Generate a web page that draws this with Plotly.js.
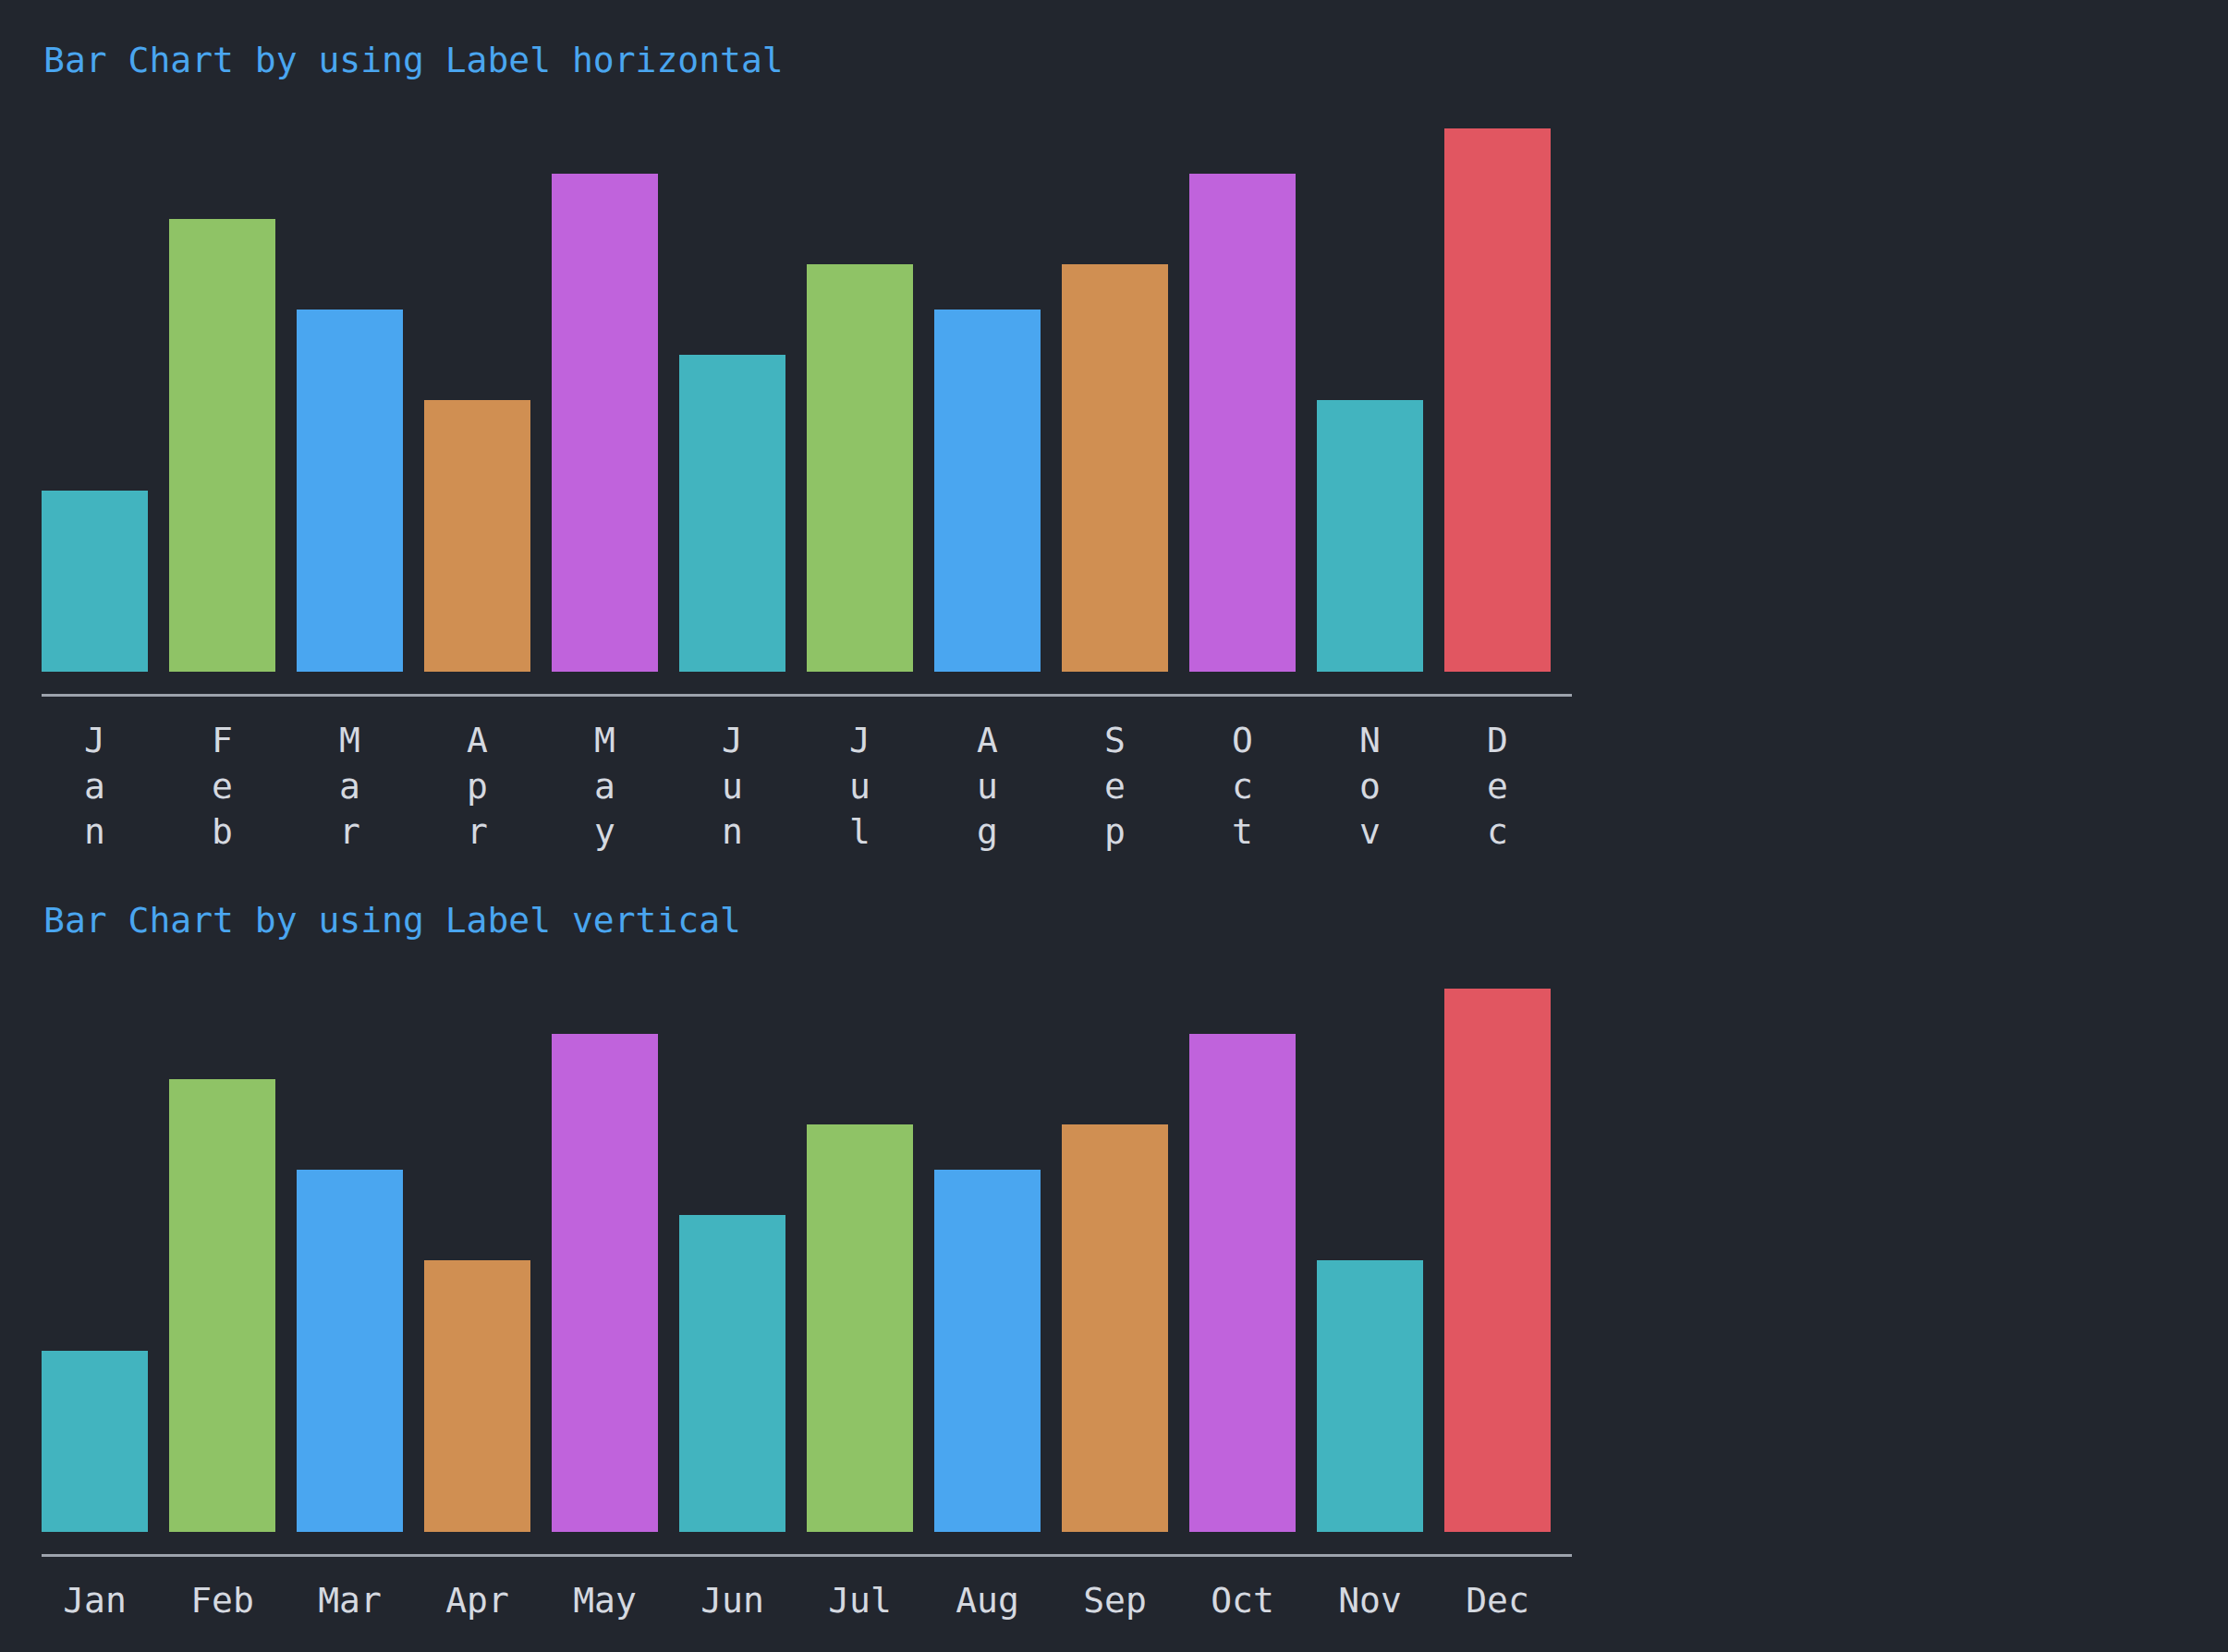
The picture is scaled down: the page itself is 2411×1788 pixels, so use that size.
<!DOCTYPE html>
<html>
<head>
<meta charset="utf-8">
<script src="https://cdn.plot.ly/plotly-3.0.1.min.js"></script>
<style>
  html, body { margin: 0; padding: 0; background: #22262e; }
  #chart { width: 2411px; height: 1788px; }
</style>
</head>
<body>
<div id="chart"></div>
<script>
const months = ["Jan", "Feb", "Mar", "Apr", "May", "Jun", "Jul", "Aug", "Sep", "Oct", "Nov", "Dec"];
const sales = [40, 100, 80, 60, 110, 70, 90, 80, 90, 110, 60, 120];
const barColors = ["#42b4bf", "#8fc366", "#4aa6f0", "#d08f52", "#c063dc", "#42b4bf",
                   "#8fc366", "#4aa6f0", "#d08f52", "#c063dc", "#42b4bf", "#e15661"];
const titles = ["Bar Chart by using Label horizontal", "Bar Chart by using Label vertical"];

const BG = "#22262e";
const FONT = "DejaVu Sans Mono, monospace";

// letters stacked one per line for the first chart
let stacked = months.map(m => m.split("").join("<br>"));

function bar_trace(xaxis, yaxis) {
    return {
        type: "bar",
        x: months,
        y: sales,
        width: 115 / 138,
        marker: {color: barColors, line: {width: 0}},
        xaxis: xaxis,
        yaxis: yaxis,
        hoverinfo: "skip",
    };
}

function x_axis(anchor, ticktext) {
    return {
        anchor: anchor,
        type: "category",
        range: [-0.5 * 115 / 138, 12 - 0.5 * 115 / 138],
        tickmode: "array",
        tickvals: months,
        ticktext: ticktext,
        ticks: "outside",
        ticklen: 15,
        tickcolor: "rgba(0,0,0,0)",
        showline: true,
        linecolor: "#9da3ad",
        linewidth: 2.5,
        showgrid: false,
        zeroline: false,
        tickfont: {family: FONT, size: 38, color: "#d5d9e0"},
        fixedrange: true,
    };
}

function y_axis(domain) {
    return {
        domain: domain,
        range: [-5, 120],
        visible: false,
        showgrid: false,
        zeroline: false,
        fixedrange: true,
    };
}

function title_note(text, y) {
    return {
        text: text,
        xref: "paper", yref: "paper",
        x: 0, y: y,
        xanchor: "left", yanchor: "middle",
        showarrow: false,
        font: {family: FONT, size: 38, color: "#4aa6f0"},
    };
}

let layout = {
    width: 2411,
    height: 1788,
    margin: {l: 45, r: 710, t: 0, b: 0},
    paper_bgcolor: BG,
    plot_bgcolor: BG,
    showlegend: false,
    bargap: 0,
    xaxis: x_axis("y", stacked),
    yaxis: y_axis([1 - 751 / 1788, 1 - 139 / 1788]),
    xaxis2: x_axis("y2", months),
    yaxis2: y_axis([1 - 1682 / 1788, 1 - 1070 / 1788]),
    annotations: [
        title_note(titles[0], 1 - 65 / 1788),
        title_note(titles[1], 1 - 996 / 1788),
    ],
};

Plotly.newPlot("chart", [bar_trace("x", "y"), bar_trace("x2", "y2")], layout,
               {displayModeBar: false, staticPlot: true});
</script>
</body>
</html>
